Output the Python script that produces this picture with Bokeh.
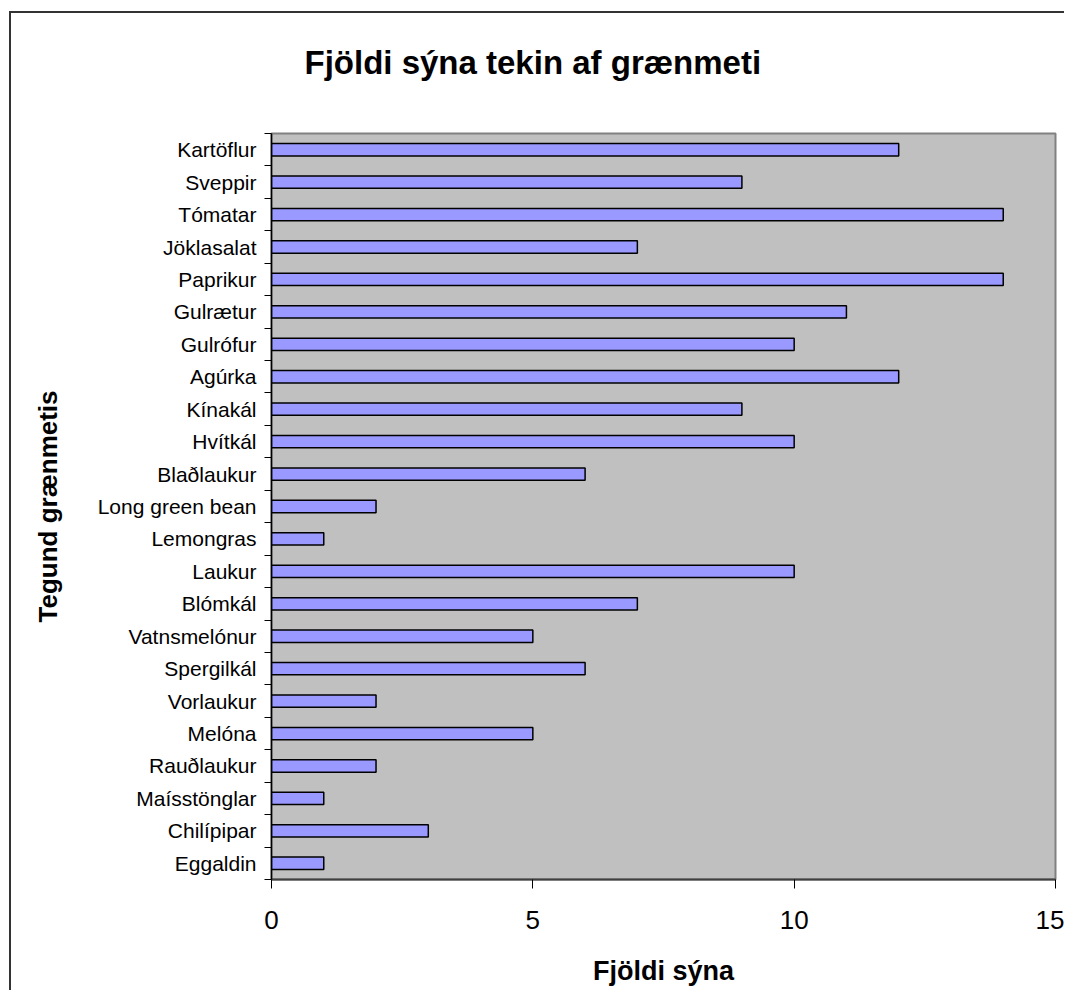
from bokeh.plotting import figure
from bokeh.models import Range1d, FixedTicker
from bokeh.embed import file_html
from bokeh.resources import INLINE

categories = ["Kartöflur", "Sveppir", "Tómatar", "Jöklasalat", "Paprikur", "Gulrætur",
              "Gulrófur", "Agúrka", "Kínakál", "Hvítkál", "Blaðlaukur", "Long green bean",
              "Lemongras", "Laukur", "Blómkál", "Vatnsmelónur", "Spergilkál", "Vorlaukur",
              "Melóna", "Rauðlaukur", "Maísstönglar", "Chilípipar", "Eggaldin"]
values = [12, 9, 14, 7, 14, 11, 10, 12, 9, 10, 6, 2, 1, 10, 7, 5, 6, 2, 5, 2, 1, 3, 1]
x_ticks = [0, 5, 10, 15]

title_text = "Fjöldi sýna tekin af grænmeti"
x_label = "Fjöldi sýna"
y_label = "Tegund grænmetis"

FONT = "Liberation Sans"
n = len(categories)
centers = [i + 0.5 for i in range(n)]
bounds = list(range(n + 1))

p = figure(width=1064, height=990, output_backend="svg", toolbar_location=None,
           x_range=Range1d(0, 15), y_range=Range1d(n, 0),
           min_border_left=271, min_border_right=9, min_border_top=133, min_border_bottom=111)
# chart-area frame: only its left and top edges fall inside the picture
p.styles = {"box-shadow": "inset 9px 11px 0px 0px #ffffff, inset 11px 13px 0px 0px #333333"}

p.hbar(y=centers, right=values, left=0, height=0.38, fill_color="#9999FF",
       line_color="#000000", line_width=1.5)

p.background_fill_color = "#C0C0C0"
p.border_fill_color = None
p.outline_line_color = "#808080"
p.outline_line_width = 2
p.xgrid.visible = False
p.ygrid.visible = False

# title (second, empty line lifts the text within its panel)
p.title.text = title_text + "\n "
p.title.text_font = FONT
p.title.text_font_size = "33px"
p.title.text_font_style = "bold"
p.title.text_color = "#000000"
p.title.align = "left"
p.title.offset = 33
p.title.standoff = 32

# x axis
xa = p.xaxis[0]
xa.ticker = FixedTicker(ticks=x_ticks)
xa.major_tick_out = 9
xa.major_tick_in = 0
xa.minor_tick_line_color = None
xa.axis_line_color = "#404040"
xa.axis_line_width = 2
xa.major_tick_line_color = "#000000"
xa.major_label_text_font = FONT
xa.major_label_text_font_size = "26px"
xa.major_label_text_color = "#000000"
xa.major_label_standoff = 22
xa.axis_label = x_label
xa.axis_label_text_font = FONT
xa.axis_label_text_font_size = "27px"
xa.axis_label_text_font_style = "bold"
xa.axis_label_text_color = "#000000"
xa.axis_label_standoff = 24

# y axis
ya = p.yaxis[0]
ya.ticker = FixedTicker(ticks=centers, minor_ticks=bounds)
ya.major_label_overrides = {c: name for c, name in zip(centers, categories)}
ya.major_tick_line_color = None
ya.major_tick_out = 0
ya.major_tick_in = 0
ya.minor_tick_out = 7
ya.minor_tick_in = 0
ya.minor_tick_line_color = "#000000"
ya.axis_line_color = "#000000"
ya.axis_line_width = 1.5
ya.major_label_text_font = FONT
ya.major_label_text_font_size = "21px"
ya.major_label_text_color = "#000000"
ya.major_label_standoff = 8
ya.axis_label = y_label
ya.axis_label_text_font = FONT
ya.axis_label_text_font_size = "26px"
ya.axis_label_text_font_style = "bold"
ya.axis_label_text_color = "#000000"
ya.axis_label_standoff = 32

open("out.html", "w").write(file_html(p, INLINE))
